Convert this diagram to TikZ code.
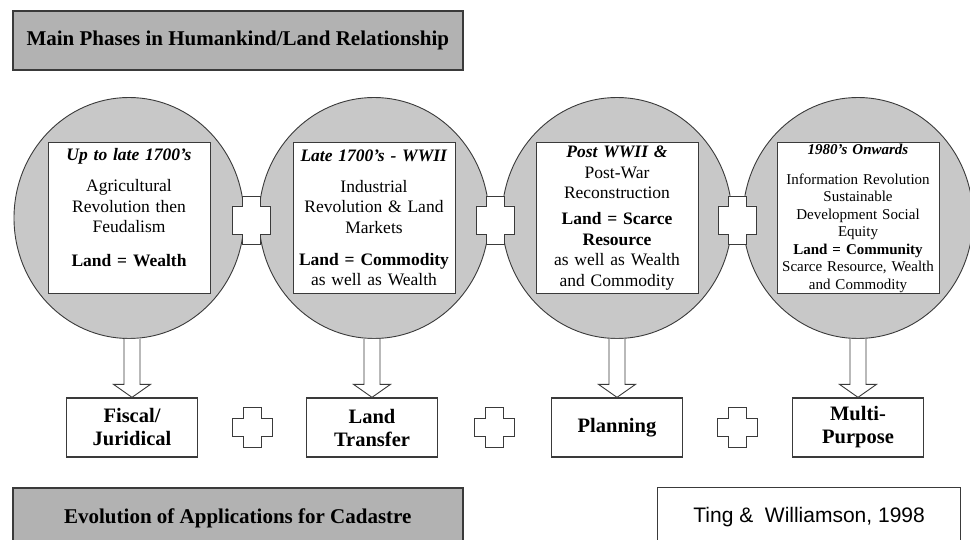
\documentclass[tikz,border=0pt]{standalone}
\usepackage{fontspec}
\setmainfont{Liberation Serif}
\newfontfamily\arialfont{Liberation Sans}
\usetikzlibrary{shapes.geometric}
\usetikzlibrary{calc}

\definecolor{phasegray}{HTML}{C8C8C8}
\definecolor{bannergray}{HTML}{B2B2B2}
\definecolor{framegray}{HTML}{3A3A3A}

\tikzset{
  phase/.style={ellipse, draw=framegray, line width=0.9pt, fill=phasegray,
    minimum width=230pt, minimum height=241pt, inner sep=0pt},
  eraframe/.style={rectangle, draw=framegray, line width=1pt, fill=white,
    minimum width=162pt, minimum height=151pt, text width=158pt, align=center,
    inner sep=0pt, font=\fontsize{17.5}{20.5}\selectfont},
  appbox/.style={rectangle, draw=framegray, line width=1.3pt, fill=white,
    minimum width=131pt, minimum height=59pt, align=center, inner sep=0pt,
    font=\bfseries\fontsize{20.5}{23}\selectfont},
  banner/.style={rectangle, draw=framegray, line width=1.6pt, fill=bannergray,
    minimum width=450pt, inner sep=0pt, font=\bfseries\fontsize{21}{24}\selectfont},
  hollow/.style={draw=framegray, line width=0.9pt, fill=white, line join=miter},
  pics/plussign/.style n args={4}{code={
    \draw[hollow] (-#1,-#4) -- (#1,-#4) -- (#1,-#3) -- (#2,-#3) -- (#2,#3) -- (#1,#3)
      -- (#1,#4) -- (-#1,#4) -- (-#1,#3) -- (-#2,#3) -- (-#2,-#3) -- (-#1,-#3) -- cycle;
  }}
}

\newcommand{\blockarrow}[2]{%
  \draw[hollow] ($(#2.north |- #1.south)+(-8,0)$) -- ($(#2.north)+(-8,-13)$)
    -- ($(#2.north)+(-18.5,-13)$) -- (#2.north) -- ($(#2.north)+(18.5,-13)$)
    -- ($(#2.north)+(8,-13)$) -- ($(#2.north |- #1.south)+(8,0)$);
}

\begin{document}
\begin{tikzpicture}[x=1pt, y=-1pt]
  \useasboundingbox (0,0) rectangle (970,540);
  \clip (0,0) rectangle (970,540);

  \node[banner, minimum height=59pt, anchor=north west] (top) at (12,10)
    {Main Phases in Humankind/Land Relationship};

  % phases
  \node[phase] (c1) at (129,218) {};
  \node[phase] (c2) at (374,218) {};
  \node[phase] (c3) at (617,218) {};
  \node[phase] (c4) at (858,218) {};

  \node[eraframe] (e1) at (c1) {\textbf{\textit{Up to late 1700's}}\\[10.5pt]
    Agricultural\\ Revolution then\\ Feudalism\\[13.5pt]
    \textbf{Land = Wealth}\\ \mbox{}};
  \node[eraframe] (e2) at (c2) {\textbf{\textit{Late 1700's - WWII}}\\[10.5pt]
    Industrial\\ Revolution \& Land\\ Markets\\[11.5pt]
    \textbf{Land = Commodity}\\ as well as Wealth};
  \node[eraframe] (e3) at (c3) {\textbf{\textit{Post WWII \&}}\\
    Post-War\\ Reconstruction\\[5.5pt]
    \textbf{Land = Scarce}\\ \textbf{Resource}\\ as well as Wealth\\ and Commodity};
  \node[eraframe, font=\fontsize{15}{17.5}\selectfont] (e4) at (c4)
    {\textbf{\textit{1980's Onwards}}\\[12.5pt]
    Information Revolution\\ Sustainable\\ Development Social\\ Equity\\
    \textbf{Land = Community}\\ Scarce Resource, Wealth\\ and Commodity};

  \pic at ($(c1.east)!0.5!(c2.west)+(0,2)$) {plussign={9}{19}{14}{24}};
  \pic at ($(c2.east)!0.5!(c3.west)+(0,2)$) {plussign={9}{19}{14}{24}};
  \pic at ($(c3.east)!0.5!(c4.west)+(0,2)$) {plussign={9}{19}{14}{24}};

  % applications
  \node[appbox] (a1) at (132,427.5) {Fiscal/\\Juridical};
  \node[appbox] (a2) at (372,427.5) {Land\\Transfer};
  \node[appbox] (a3) at (617,427.5) {Planning};
  \node[appbox] (a4) at (858,427.5) {Multi-\\Purpose};

  \blockarrow{c1}{a1}
  \blockarrow{c2}{a2}
  \blockarrow{c3}{a3}
  \blockarrow{c4}{a4}

  \pic at ($(a1.east)!0.5!(a2.west)$) {plussign={9}{20}{9}{20}};
  \pic at ($(a2.east)!0.5!(a3.west)$) {plussign={9}{20}{9}{20}};
  \pic at ($(a3.east)!0.5!(a4.west)$) {plussign={9}{20}{9}{20}};

  \node[banner, minimum height=62pt, anchor=north west] (evo) at (12,487)
    {Evolution of Applications for Cadastre};
  \node[rectangle, draw=framegray, line width=1.2pt, minimum width=303pt,
    minimum height=58pt, anchor=north west, font=\arialfont\fontsize{21}{24}\selectfont]
    (src) at (657,487) {Ting \&~ Williamson, 1998};
\end{tikzpicture}
\end{document}
